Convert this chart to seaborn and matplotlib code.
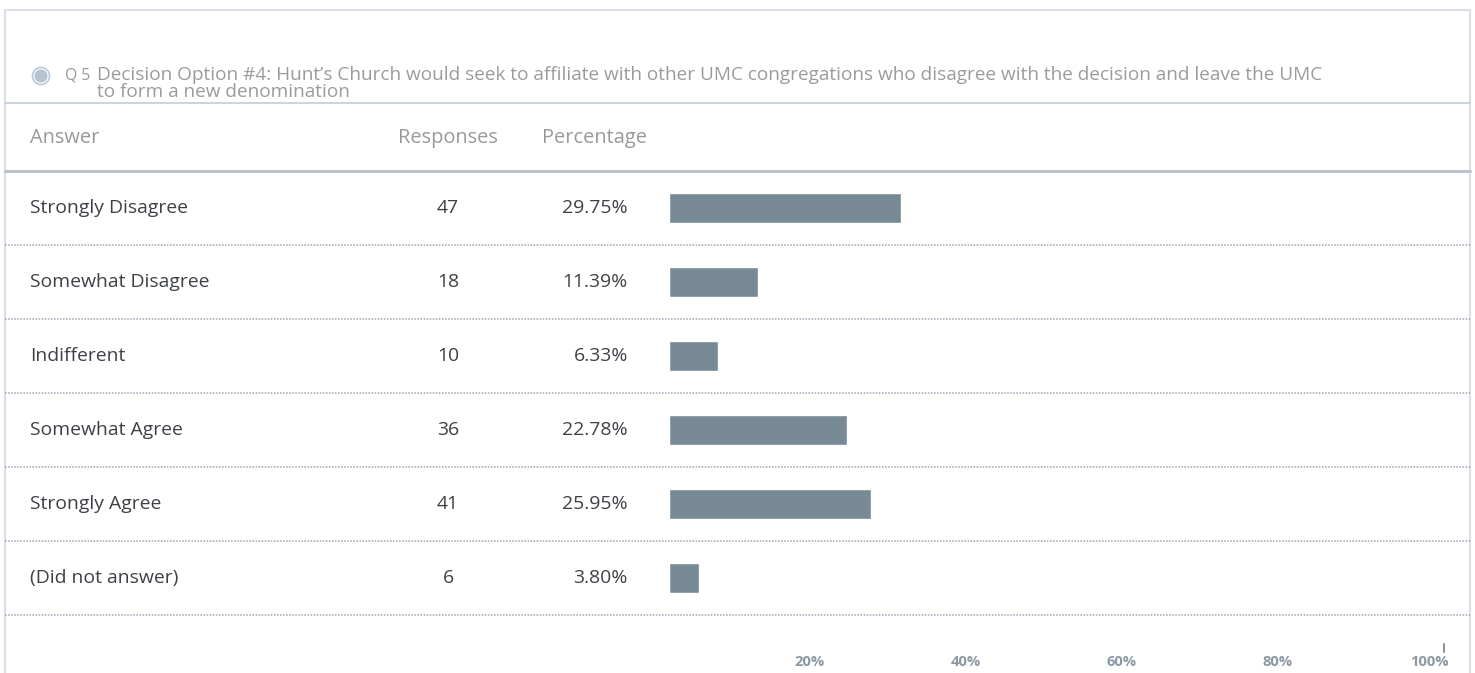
import matplotlib
matplotlib.use("Agg")
import matplotlib.pyplot as plt
import matplotlib.transforms as mtransforms
from matplotlib.patches import Circle
import seaborn as sns
import pandas as pd

# ---- data ----
answers = ["Strongly Disagree", "Somewhat Disagree", "Indifferent",
           "Somewhat Agree", "Strongly Agree", "(Did not answer)"]
responses = [47, 18, 10, 36, 41, 6]
percentages = [29.75, 11.39, 6.33, 22.78, 25.95, 3.80]
tick_values = [20, 40, 60, 80, 100]
tick_labels = ["20%", "40%", "60%", "80%", "100%"]
question_no = "Q 5"
question_line1 = ("Decision Option #4: Hunt\u2019s Church would seek to affiliate with other UMC "
                  "congregations who disagree with the decision and leave the UMC")
question_line2 = "to form a new denomination"
col_headers = ["Answer", "Responses", "Percentage"]

df = pd.DataFrame({"answer": answers, "responses": responses, "pct": percentages})

sns.set_theme(style="white")
FONT = ['Open Sans', 'DejaVu Sans']
plt.rcParams['font.family'] = FONT

W, H = 1475, 673
fig = plt.figure(figsize=(W / 100, H / 100), dpi=100)
fig.patch.set_facecolor("white")
renderer = fig.canvas.get_renderer()


def fit_size(s, target_px, base=12.0, **kw):
    t = fig.text(0, 0, s, fontsize=base, **kw)
    w = t.get_window_extent(renderer).width
    t.remove()
    return base * target_px / w


fs_title = fit_size(question_line1, 1225)
fs_row = fit_size("Strongly Disagree", 158)
fs_head = fit_size("Responses", 99)
fs_tick = fit_size("20%", 30, fontweight="bold")

# background axes in pixel coordinates
bg = fig.add_axes([0, 0, 1, 1])
bg.set_xlim(0, W)
bg.set_ylim(H, 0)
bg.axis("off")

frame_c = "#d9dee7"
line_c = "#c3ccd4"
dot_c = "#9aa6b0"
bg.plot([4.5, 4.5], [H + 5, 9.5], color=frame_c, lw=1.5)
bg.plot([1469.5, 1469.5], [H + 5, 9.5], color=frame_c, lw=1.5)
bg.plot([4.5, 1469.5], [9.5, 9.5], color=frame_c, lw=1.5)
bg.plot([4.5, 1469.5], [103, 103], color=line_c, lw=1.2)
bg.plot([4.5, 1469.5], [171, 171], color="#b9c5ce", lw=2.2)

# radio icon
bg.add_patch(Circle((41, 76), 8.5, facecolor="white", edgecolor="#b8c8d8", lw=1.2))
bg.add_patch(Circle((41, 76), 6.5, facecolor="#b3c3d2", edgecolor="none"))
bg.text(65, 75, question_no, fontsize=fs_title * 0.82, color="#9a9a9a", va="center", ha="left")
bg.text(97, 75, question_line1, fontsize=fs_title, color="#9b9b9b", va="center", ha="left")
bg.text(97, 92, question_line2, fontsize=fs_title, color="#9b9b9b", va="center", ha="left")

# column headers
bg.text(30, 138, col_headers[0], fontsize=fs_head, color="#999999", va="center", ha="left")
bg.text(448, 138, col_headers[1], fontsize=fs_head, color="#999999", va="center", ha="center")
bg.text(594, 138, col_headers[2], fontsize=fs_head, color="#999999", va="center", ha="center")

# bar axes
x0, x1 = 669, 1449
y_top, y_bot = 171, 615
ax = fig.add_axes([x0 / W, 1 - y_bot / H, (x1 - x0) / W, (y_bot - y_top) / H])
ax.patch.set_alpha(0)
sns.barplot(data=df, x="pct", y="answer", orient="h", color="#788a96",
            saturation=1, width=0.41, ax=ax)
ax.set_xlim(0, 100)
ax.set_ylim(len(answers) - 0.5, -0.5)
for s in ax.spines.values():
    s.set_visible(False)
ax.set_ylabel("")
ax.set_xlabel("")
ax.set_yticks([])
ax.set_xticks(tick_values)
ax.set_xticklabels(tick_labels, fontsize=fs_tick, color="#8c99a4", fontweight="bold")
for lab in ax.get_xticklabels():
    lab.set_horizontalalignment("right")
ax.tick_params(axis="x", length=0, pad=29)

# row texts and dotted lines (x in pixels, y in data)
tr = mtransforms.blended_transform_factory(bg.transData, ax.transData)
for i, (a, r, p) in enumerate(zip(answers, responses, percentages)):
    ax.text(30, i, a, transform=tr, fontsize=fs_row, color="#3d4146", va="center", ha="left")
    ax.text(448, i, str(r), transform=tr, fontsize=fs_row, color="#3d4146", va="center", ha="center")
    ax.text(628, i, f"{p:.2f}%", transform=tr, fontsize=fs_row, color="#3d4146", va="center", ha="right")
    ax.plot([4.5, 1469.5], [i + 0.5, i + 0.5], transform=tr, color=dot_c, lw=1.1,
            linestyle=(0, (1, 1)), clip_on=False)

# 100% tick mark
tr2 = mtransforms.blended_transform_factory(ax.transData, bg.transData)
ax.plot([99.3, 99.3], [644, 652], transform=tr2, color="#8c99a4", lw=1.5, clip_on=False)

fig.savefig("out.png", dpi=100, facecolor="white")
